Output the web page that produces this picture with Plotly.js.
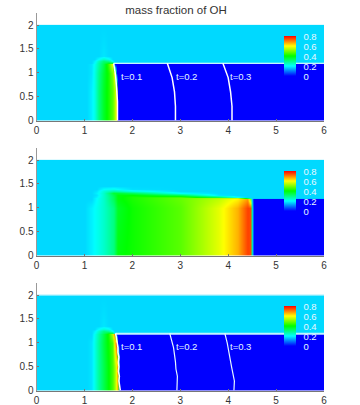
<!DOCTYPE html>
<html>
<head>
<meta charset="utf-8">
<script src="https://cdn.plot.ly/plotly-3.0.1.min.js"></script>
<style>html,body{margin:0;padding:0;background:#fff}</style>
</head>
<body>
<div id="chart" style="width:360px;height:405px"></div>
<script>
const colorbarTicks = [0, 0.2, 0.4, 0.6, 0.8];
const xTicks = [0, 1, 2, 3, 4, 5, 6];
const yTicks = [0, 0.5, 1, 1.5, 2];
const colors = [[0, '#0000ff'], [0.25, '#00ffff'], [0.5, '#00ff00'], [0.75, '#ffff00'], [1, '#ff0000']];

// panel 1
const x1 = [0, 1.05, 1.15, 1.22, 1.3, 1.4, 1.5, 1.58, 1.63, 1.67, 1.7, 6];
const y1 = [0, 0.6, 1.0, 1.19, 1.2, 1.25, 1.3, 1.35, 1.99, 2];
const z1 = [
    [.17, .17, .19, .22, .3, .37, .42, .47, .53, .62, 0, 0],
    [.17, .17, .19, .22, .3, .37, .42, .47, .53, .62, 0, 0],
    [.17, .17, .18, .22, .29, .36, .42, .5, .6, 0, 0, 0],
    [.17, .17, .18, .21, .27, .34, .45, .6, 0, 0, 0, 0],
    [.17, .17, .17, .2, .27, .33, .38, .36, .17, .17, .17, .17],
    [.17, .17, .17, .19, .25, .31, .29, .2, .17, .17, .17, .17],
    [.17, .17, .17, .17, .2, .24, .21, .17, .17, .17, .17, .17],
    [.17, .17, .17, .17, .17, .18, .17, .17, .17, .17, .17, .17],
    [.17, .17, .17, .17, .17, .17, .17, .17, .17, .17, .17, .17],
    [.17, .17, .17, .17, .17, .17, .17, .17, .17, .17, .17, .17]
];
const line1a = {x: [1.69, 1.69, 1.67, 1.65, 1.61], y: [0, 0.4, 0.7, 0.95, 1.2]};
const line1b = {x: [2.9, 2.9, 2.88, 2.83, 2.73], y: [0, 0.3, 0.6, 0.9, 1.2]};
const line1c = {x: [4.08, 4.08, 4.05, 4, 3.89], y: [0, 0.3, 0.6, 0.9, 1.2]};
const top1 = {x: [1.61, 6], y: [1.2, 1.2]};

// panel 2
const x2 = [0, 1, 1.15, 1.25, 1.4, 1.6, 1.68, 2, 3, 3.8, 4.2, 4.41, 4.46, 4.49, 4.52, 6];
const y2 = [0, 1.0, 1.19, 1.2, 1.23, 1.27, 1.31, 1.35, 1.4, 1.45, 1.99, 2];
const z2 = [
    [.17, .17, .19, .21, .24, .3, .39, .41, .47, .58, .66, .75, .74, .3, 0, 0],
    [.17, .17, .19, .21, .24, .3, .37, .41, .47, .58, .66, .75, .74, .3, 0, 0],
    [.17, .17, .17, .2, .24, .33, .39, .42, .48, .55, .61, .68, .5, .2, 0, 0],
    [.17, .17, .17, .2, .24, .33, .39, .42, .48, .53, .55, .35, .25, .17, .17, .17],
    [.17, .17, .17, .19, .24, .33, .39, .42, .45, .33, .2, .17, .17, .17, .17, .17],
    [.17, .17, .17, .18, .24, .34, .39, .4, .33, .18, .17, .17, .17, .17, .17, .17],
    [.17, .17, .17, .19, .24, .36, .36, .33, .2, .17, .17, .17, .17, .17, .17, .17],
    [.17, .17, .17, .18, .23, .27, .26, .22, .17, .17, .17, .17, .17, .17, .17, .17],
    [.17, .17, .17, .17, .2, .21, .2, .175, .17, .17, .17, .17, .17, .17, .17, .17],
    [.17, .17, .17, .17, .17, .17, .17, .17, .17, .17, .17, .17, .17, .17, .17, .17],
    [.17, .17, .17, .17, .17, .17, .17, .17, .17, .17, .17, .17, .17, .17, .17, .17],
    [.17, .17, .17, .17, .17, .17, .17, .17, .17, .17, .17, .17, .17, .17, .17, .17]
];

// panel 3
const x3 = [0, 1.05, 1.15, 1.22, 1.3, 1.4, 1.5, 1.58, 1.63, 1.67, 1.7, 1.74, 6];
const y3 = [0, 0.5, 1.0, 1.19, 1.2, 1.25, 1.3, 1.35, 1.99, 2];
const z3 = [
    [.17, .17, .18, .22, .28, .34, .4, .46, .52, .6, .68, 0, 0],
    [.17, .17, .18, .22, .28, .34, .4, .46, .52, .6, .72, 0, 0],
    [.17, .17, .18, .22, .28, .35, .41, .46, .62, .75, 0, 0, 0],
    [.17, .17, .17, .21, .27, .34, .42, .55, .72, 0, 0, 0, 0],
    [.17, .17, .17, .2, .26, .32, .37, .34, .17, .17, .17, .17, .17],
    [.17, .17, .17, .19, .24, .3, .28, .2, .17, .17, .17, .17, .17],
    [.17, .17, .17, .17, .2, .23, .21, .17, .17, .17, .17, .17, .17],
    [.17, .17, .17, .17, .17, .18, .17, .17, .17, .17, .17, .17, .17],
    [.17, .17, .17, .17, .17, .17, .17, .17, .17, .17, .17, .17, .17],
    [.17, .17, .17, .17, .17, .17, .17, .17, .17, .17, .17, .17, .17]
];
const line3a = {x: [1.75, 1.73, 1.72, 1.73, 1.71, 1.72, 1.71, 1.72, 1.7, 1.7, 1.69, 1.67, 1.65], y: [0, 0.1, 0.2, 0.3, 0.4, 0.5, 0.6, 0.7, 0.8, 0.9, 1, 1.1, 1.2]};
const line3b = {x: [2.93, 2.94, 2.91, 2.9, 2.86, 2.78], y: [0, 0.3, 0.45, 0.6, 0.9, 1.2]};
const line3c = {x: [4.12, 4.13, 4.07, 4.02, 3.98, 3.93], y: [0, 0.2, 0.5, 0.8, 1.0, 1.2]};
const top3 = {x: [1.65, 6], y: [1.19, 1.19]};
const edge3 = {x: [0, 6], y: [2, 2]};

const timeLabels = ['t=0.1', 't=0.2', 't=0.3'];
const labelX1 = [1.99, 3.12, 4.25];
const labelY = [0.93, 0.93, 0.93];

const PANEL_OFFSET = 135;
const traces = [];
const layout = {
    width: 360,
    height: 405,
    margin: {l: 0, r: 0, t: 0, b: 0, autoexpand: false},
    paper_bgcolor: 'white',
    plot_bgcolor: 'white',
    showlegend: false,
    font: {family: '"Liberation Sans", Arial, sans-serif', size: 10, color: '#333'},
    title: {
        text: 'mass fraction of OH',
        x: 176 / 360,
        xanchor: 'center',
        y: 1 - 9.5 / 405,
        yanchor: 'middle',
        font: {size: 11.5, color: '#333'}
    },
    annotations: []
};

function addAxes(i) {
    const suffix = i === 0 ? '' : String(i + 1);
    const bottom = 120.5 + i * PANEL_OFFSET;
    const top = 13.2 + i * PANEL_OFFSET;
    layout['xaxis' + suffix] = {
        domain: [36.5 / 360, 324 / 360],
        range: [0, 6],
        tickvals: xTicks,
        ticks: 'inside',
        ticklen: 2,
        tickcolor: '#777',
        tickwidth: 1,
        showline: true,
        linecolor: '#777',
        linewidth: 1,
        showgrid: false,
        zeroline: false,
        anchor: 'y' + suffix,
        fixedrange: true,
        tickfont: {size: 10}
    };
    layout['yaxis' + suffix] = {
        domain: [1 - bottom / 405, 1 - top / 405],
        range: [0, 2.25],
        tickvals: yTicks,
        ticks: 'inside',
        ticklen: 2,
        tickcolor: '#777',
        tickwidth: 1,
        showline: true,
        linecolor: '#999',
        linewidth: 1,
        showgrid: false,
        zeroline: false,
        anchor: 'x' + suffix,
        fixedrange: true,
        tickfont: {size: 10}
    };
}

function addField(i, x, y, z) {
    const suffix = i === 0 ? '' : String(i + 1);
    traces.push({
        type: 'heatmap',
        x: x,
        y: y,
        z: z,
        zmin: 0,
        zmax: 0.8,
        zsmooth: 'best',
        colorscale: colors,
        xaxis: 'x' + suffix,
        yaxis: 'y' + suffix,
        hoverinfo: 'skip',
        colorbar: {
            x: 284 / 360,
            xanchor: 'left',
            xpad: 0,
            y: 1 - (56.2 + i * PANEL_OFFSET) / 405,
            yanchor: 'middle',
            ypad: 0,
            thickness: 12,
            thicknessmode: 'pixels',
            len: 39.5,
            lenmode: 'pixels',
            outlinewidth: 0,
            borderwidth: 0,
            tickvals: colorbarTicks,
            ticktext: colorbarTicks.map(String),
            ticks: 'outside',
            ticklen: 6,
            tickcolor: 'rgba(0,0,0,0)',
            tickfont: {size: 9.5, color: '#e6f8ff'}
        }
    });
}

function addLine(i, line, width, color) {
    const suffix = i === 0 ? '' : String(i + 1);
    traces.push({
        type: 'scatter',
        mode: 'lines',
        x: line.x,
        y: line.y,
        xaxis: 'x' + suffix,
        yaxis: 'y' + suffix,
        line: {color: color, width: width},
        hoverinfo: 'skip'
    });
}

function addLabels(i, xs) {
    const suffix = i === 0 ? '' : String(i + 1);
    timeLabels.forEach((label, k) => {
        layout.annotations.push({
            text: label,
            x: xs[k],
            y: labelY[k],
            xref: 'x' + suffix,
            yref: 'y' + suffix,
            showarrow: false,
            font: {size: 9.5, color: '#e6f8ff'}
        });
    });
}

[0, 1, 2].forEach(addAxes);

addField(0, x1, y1, z1);
addField(1, x2, y2, z2);
addField(2, x3, y3, z3);

addLine(0, top1, 1, 'white');
addLine(0, line1a, 1.5, 'white');
addLine(0, line1b, 1.5, 'white');
addLine(0, line1c, 1.5, 'white');

addLine(2, edge3, 1, '#bff3ff');
addLine(2, top3, 2, '#bff3ff');
addLine(2, line3a, 1.5, 'white');
addLine(2, line3b, 1.2, '#e6f8ff');
addLine(2, line3c, 1.2, '#e6f8ff');

addLabels(0, labelX1);
addLabels(2, labelX1);

Plotly.newPlot('chart', traces, layout, {displayModeBar: false, staticPlot: true});
</script>
</body>
</html>
